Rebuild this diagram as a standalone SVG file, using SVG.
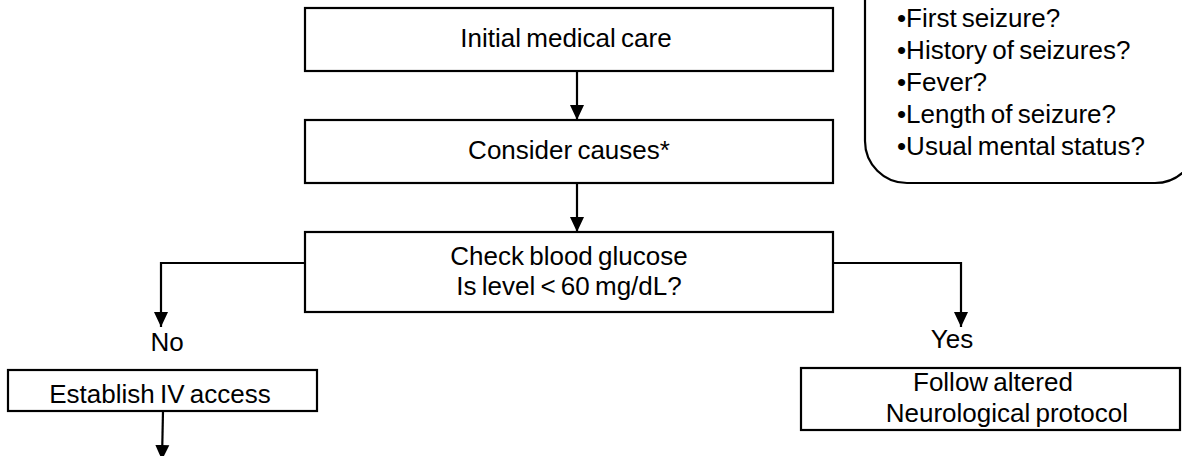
<svg xmlns="http://www.w3.org/2000/svg" width="1182" height="456" viewBox="0 0 1182 456">
<style>
.box{fill:#fff;stroke:#000;stroke-width:2.2}
.t{font-family:"Liberation Sans",Arial,sans-serif;font-size:26px;word-spacing:-2px;fill:#000}
.c{text-anchor:middle}
.r{text-anchor:end}
.e{fill:none;stroke:#000;stroke-width:2.2}
</style>
<defs>
<marker id="ah" markerUnits="userSpaceOnUse" markerWidth="16" markerHeight="16" viewBox="0 0 16 16" refX="15" refY="8" orient="auto">
<path d="M0,1 L15,8 L0,15 Z" fill="#000"/>
</marker>
</defs>
<rect width="1182" height="456" fill="#fff"/>
<g id="questions">
<rect class="box" x="865" y="-60" width="332" height="243" rx="42" ry="42"/>
<text class="t" x="897" y="27">•First seizure?</text>
<text class="t" x="897" y="59">•History of seizures?</text>
<text class="t" x="897" y="91">•Fever?</text>
<text class="t" x="897" y="123">•Length of seizure?</text>
<text class="t" x="897" y="155">•Usual mental status?</text>
</g>
<g id="initial">
<rect class="box" x="305" y="8" width="528" height="63"/>
<text class="t c" x="566" y="47">Initial medical care</text>
</g>
<g id="causes">
<rect class="box" x="305" y="120" width="528" height="63"/>
<text class="t c" x="569" y="159">Consider causes*</text>
</g>
<g id="glucose">
<rect class="box" x="305" y="232" width="528" height="80"/>
<text class="t c" x="569" y="265">Check blood glucose</text>
<text class="t c" x="569" y="295">Is level &lt; 60 mg/dL?</text>
</g>
<g id="no-label">
<text class="t c" x="167" y="351">No</text>
</g>
<g id="yes-label">
<text class="t c" x="952" y="348">Yes</text>
</g>
<g id="iv">
<rect class="box" x="8" y="370" width="309" height="41"/>
<text class="t c" x="160" y="403">Establish IV access</text>
</g>
<g id="neuro">
<rect class="box" x="801" y="368" width="379" height="62"/>
<text class="t" x="913" y="391">Follow altered</text>
<text class="t r" x="1128" y="422">Neurological protocol</text>
</g>
<g id="connectors">
<path class="e" d="M577,71 V120" marker-end="url(#ah)"/>
<path class="e" d="M577,183 V232" marker-end="url(#ah)"/>
<path class="e" d="M305,263 H161 V327" marker-end="url(#ah)"/>
<path class="e" d="M833,263 H961 V327" marker-end="url(#ah)"/>
<path class="e" d="M163,411 L162,460" marker-end="url(#ah)"/>
</g>
</svg>
